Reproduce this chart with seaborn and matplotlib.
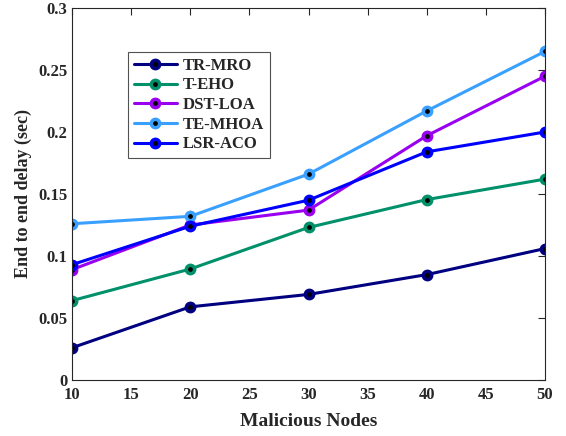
import matplotlib
matplotlib.use("Agg")
import matplotlib.pyplot as plt
import seaborn as sns
import pandas as pd

nodes = [10, 20, 30, 40, 50]
tr_mro = [0.026, 0.059, 0.069, 0.085, 0.106]
t_eho = [0.064, 0.0895, 0.123, 0.1455, 0.162]
dst_loa = [0.089, 0.125, 0.137, 0.197, 0.245]
te_mhoa = [0.126, 0.132, 0.166, 0.217, 0.265]
lsr_aco = [0.093, 0.124, 0.145, 0.184, 0.200]

names = ["TR-MRO", "T-EHO", "DST-LOA", "TE-MHOA", "LSR-ACO"]
series = [tr_mro, t_eho, dst_loa, te_mhoa, lsr_aco]
colors = ["#000080", "#00906A", "#9A00F0", "#3AA0FF", "#0000FF"]

rows = []
for n, s in zip(names, series):
    for x, y in zip(nodes, s):
        rows.append({"Malicious Nodes": x, "delay": y, "Method": n})
df = pd.DataFrame(rows)

sns.set_style("white")
plt.rcParams['font.family'] = ['Liberation Serif', 'DejaVu Serif']
plt.rcParams['font.weight'] = 'bold'

fig = plt.figure(figsize=(5.66, 4.36), dpi=100)
ax = fig.add_axes([72/566, 1-380/436, (545-72)/566, (380-8)/436])

MS, MEW, LW = 6.0, 2.5, 2.2
sns.lineplot(data=df, x="Malicious Nodes", y="delay", hue="Method",
             hue_order=names, palette=colors, ax=ax, linewidth=LW,
             marker="o", markersize=MS, markerfacecolor="black",
             markeredgewidth=MEW)
for line, c in zip(ax.get_lines(), colors):
    line.set_markeredgecolor(c)

ax.set_xlim(10, 50)
ax.set_ylim(0, 0.3)
ax.set_xticks([10, 15, 20, 25, 30, 35, 40, 45, 50])
ax.set_yticks([0, 0.05, 0.1, 0.15, 0.2, 0.25, 0.3])
ax.set_yticklabels(["0", "0.05", "0.1", "0.15", "0.2", "0.25", "0.3"])
ax.tick_params(direction="in", length=5, top=True, right=True, labelsize=12,
               width=0.8, colors="#262626")
ax.tick_params(axis="x", pad=5)
for lab in ax.get_xticklabels() + ax.get_yticklabels():
    lab.set_fontweight("bold")
for sp in ax.spines.values():
    sp.set_color("#262626")
    sp.set_linewidth(0.8)
ax.set_xlabel("Malicious Nodes", fontsize=14, fontweight="bold", labelpad=7)
ax.set_ylabel("End to end delay (sec)", fontsize=13, fontweight="bold")

handles, labels = ax.get_legend_handles_labels()
for h, c in zip(handles, colors):
    h.set_marker("o")
    h.set_markerfacecolor("black")
    h.set_markeredgecolor(c)
    h.set_markersize(MS)
    h.set_markeredgewidth(MEW)
    h.set_linewidth(LW)
leg = ax.legend(handles, labels, loc="upper left", bbox_to_anchor=(0.118, 0.882),
                frameon=True, fancybox=False, edgecolor="#262626",
                prop={"weight": "bold", "size": 12}, handlelength=2.6,
                borderpad=0.35, labelspacing=0.22, handletextpad=0.36,
                borderaxespad=0)
leg.get_frame().set_linewidth(0.8)

fig.savefig("out.png", dpi=100)
